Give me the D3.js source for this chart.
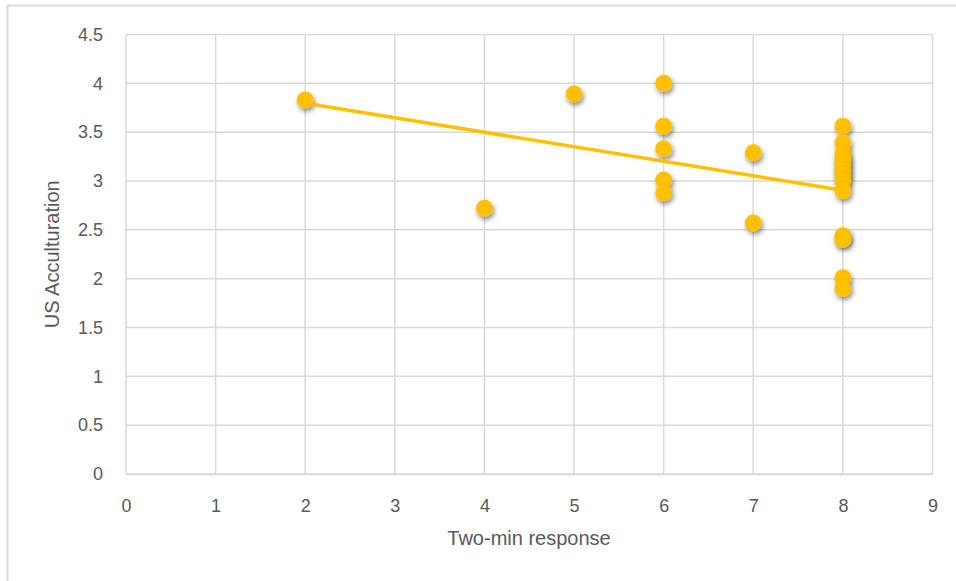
<!DOCTYPE html>
<html>
<head>
<meta charset="utf-8">
<script src="https://cdn.jsdelivr.net/npm/d3@7"></script>
<style>
  html, body { margin: 0; padding: 0; background: #fff; }
  svg { display: block; }
  text { font-family: "Liberation Sans", Arial, sans-serif; fill: #595959; }
</style>
</head>
<body>
<svg id="chart" width="956" height="581"></svg>
<script>
// Data
const xValues = [2, 4, 5, 6, 6, 6, 6, 6, 7, 7, 8, 8, 8, 8, 8, 8, 8, 8, 8, 8, 8, 8, 8];
const yValues = [3.83, 2.72, 3.89, 4.0, 3.56, 3.33, 3.01, 2.88, 3.29, 2.57,
                 3.56, 3.39, 3.28, 3.22, 3.17, 3.11, 3.06, 3.0, 2.90, 2.44, 2.40, 2.01, 1.90];
const xTicks = [0, 1, 2, 3, 4, 5, 6, 7, 8, 9];
const yTicks = [0, 0.5, 1, 1.5, 2, 2.5, 3, 3.5, 4, 4.5];
const xTitle = "Two-min response";
const yTitle = "US Acculturation";

const svg = d3.select("#chart");
const plot = { left: 126, right: 932.5, top: 34.5, bottom: 474 };

const x = d3.scaleLinear().domain([0, 9]).range([plot.left, plot.right]);
const y = d3.scaleLinear().domain([0, 4.5]).range([plot.bottom, plot.top]);

// defs: shadow
const defs = svg.append("defs");
const f = defs.append("filter").attr("id", "shadow")
  .attr("x", "-80%").attr("y", "-80%").attr("width", "260%").attr("height", "260%");
f.append("feDropShadow").attr("dx", 1.5).attr("dy", 3).attr("stdDeviation", 2.8)
  .attr("flood-color", "#000").attr("flood-opacity", 0.45);

// outer chart border (left and top visible)
svg.append("path")
  .attr("d", `M7.5,581 L7.5,5.5 L956,5.5`)
  .attr("fill", "none").attr("stroke", "#d9d9d9").attr("stroke-width", 2);

// gridlines
const grid = svg.append("g");
grid.selectAll("line.v").data(xTicks).join("line")
  .attr("x1", d => x(d)).attr("x2", d => x(d))
  .attr("y1", plot.top).attr("y2", plot.bottom)
  .attr("stroke", "#d9d9d9").attr("stroke-width", 1.5);
grid.selectAll("line.h").data(yTicks).join("line")
  .attr("y1", d => y(d)).attr("y2", d => y(d))
  .attr("x1", plot.left).attr("x2", plot.right)
  .attr("stroke", "#d9d9d9").attr("stroke-width", 1.5);

// axes
const xAxis = d3.axisBottom(x).tickValues(xTicks).tickSize(0).tickPadding(25).tickFormat(d3.format("d"));
const gx = svg.append("g").attr("transform", `translate(0,${plot.bottom})`).call(xAxis);
gx.select(".domain").attr("stroke", "#d9d9d9").attr("stroke-width", 1.5);
gx.selectAll("text").style("font-size", "18px").attr("fill", "#595959")
  .style("font-family", "'Liberation Sans', Arial, sans-serif");

const yAxis = d3.axisLeft(y).tickValues(yTicks).tickSize(0).tickPadding(23).tickFormat(d => String(d));
const gy = svg.append("g").attr("transform", `translate(${plot.left},0)`).call(yAxis);
gy.select(".domain").remove();
gy.selectAll("text").style("font-size", "18px").attr("fill", "#595959")
  .style("font-family", "'Liberation Sans', Arial, sans-serif");

// axis titles
svg.append("text").attr("x", 529).attr("y", 545)
  .attr("text-anchor", "middle").style("font-size", "20px").text(xTitle);
svg.append("text").attr("transform", `translate(59,${(plot.top + plot.bottom) / 2}) rotate(-90)`)
  .attr("text-anchor", "middle").style("font-size", "20px").text(yTitle);

// linear trendline (least squares)
const pts = xValues.map((v, i) => [v, yValues[i]]);
const mx = d3.mean(xValues), my = d3.mean(yValues);
const sxy = d3.sum(pts, p => (p[0] - mx) * (p[1] - my));
const sxx = d3.sum(pts, p => (p[0] - mx) ** 2);
const slope = sxy / sxx, intercept = my - slope * mx;
const x0 = d3.min(xValues), x1 = d3.max(xValues);

// points
svg.append("g").selectAll("circle").data(pts).join("circle")
  .attr("cx", d => x(d[0])).attr("cy", d => y(d[1])).attr("r", 8.5)
  .attr("fill", "#FFC000").attr("filter", "url(#shadow)");

svg.append("line")
  .attr("x1", x(x0)).attr("y1", y(intercept + slope * x0))
  .attr("x2", x(x1)).attr("y2", y(intercept + slope * x1))
  .attr("stroke", "#FFC000").attr("stroke-width", 3.5);
</script>
</body>
</html>
